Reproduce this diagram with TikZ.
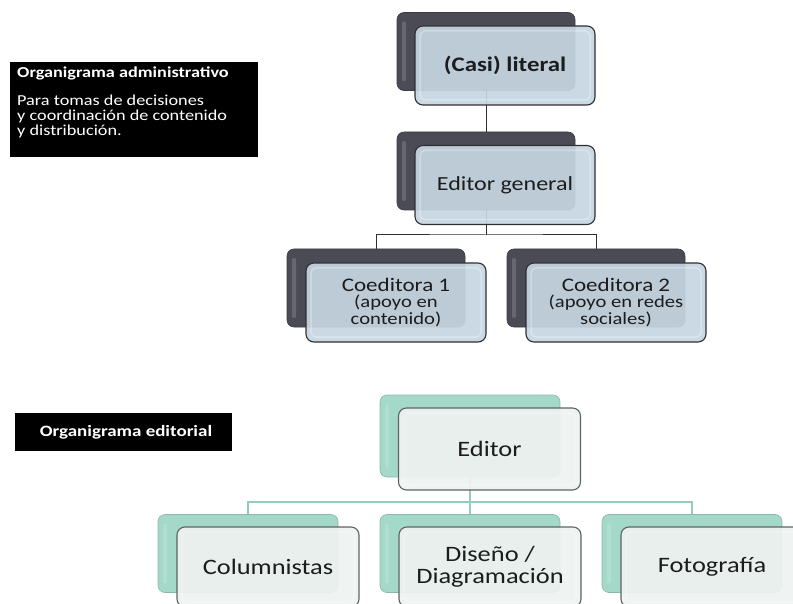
\documentclass[tikz,border=0pt]{standalone}
\usepackage{fontspec}
\setmainfont{Carlito}[FakeStretch=1.2]
\definecolor{slate}{HTML}{4B4B56}
\definecolor{frostblue}{HTML}{C6D6E1}
\definecolor{edgedark}{HTML}{2F2F33}
\definecolor{mint}{HTML}{A4D8C8}
\definecolor{paper}{HTML}{EEF2F1}
\definecolor{edgegray}{HTML}{5E6462}
\definecolor{mintline}{HTML}{95CCBC}
\definecolor{inktext}{HTML}{1C1C1C}
\usepackage{tikz}
\usetikzlibrary{positioning,calc,backgrounds}

\begin{document}
\begin{tikzpicture}[x=1pt, y=-1pt,
    backbox/.style={rounded corners=7pt, minimum width=178pt, minimum height=78pt, inner sep=0pt, line width=.6pt,
      path picture={\fill[white, opacity=.16, rounded corners=2pt] ([shift={(5,9)}]path picture bounding box.north west) rectangle ([shift={(9,-9)}]path picture bounding box.south west);}},
    darkback/.style={backbox, fill=slate, draw=slate!80!black},
    mintback/.style={backbox, fill=mint, draw=mint!85!black, minimum width=180pt},
    frontbox/.style={rounded corners=8pt, minimum width=180pt, minimum height=79pt, inner sep=2pt, align=center, text=inktext, line width=1.1pt,
      fill opacity=.92, text opacity=1,
      path picture={\draw[white, opacity=.3, line width=1.5pt, rounded corners=5pt] ([shift={(5,5)}]path picture bounding box.north west) rectangle ([shift={(-5,-5)}]path picture bounding box.south east);}},
    frostfront/.style={frontbox, fill=frostblue, draw=edgedark},
    paperfront/.style={frontbox, fill=paper, draw=edgegray, minimum width=182pt, minimum height=80pt},
    darklink/.style={draw=edgedark, line width=1pt},
    mintlink/.style={draw=mintline, line width=1.3pt},
    blackbox/.style={fill=black, inner sep=0pt},
    heading/.style={text=white, inner sep=0pt, font=\fontsize{15.2pt}{15pt}\selectfont\bfseries}
  ]
    \useasboundingbox (0,0) rectangle (793,604);

    \node[blackbox, minimum width=248pt, minimum height=95pt] (adminBox) at (134,109.5) {};
    \node[heading, anchor=base west] (adminTitle) at (17,78) {Organigrama administrativo};
    \node[heading, anchor=north west, align=left, font=\fontsize{15.2pt}{15pt}\selectfont] (adminNote) at (17,95) {Para tomas de decisiones\\y coordinación de contenido\\y distribución.};

    \node[darkback] (casiB) at (486,51.5) {};
    \node[frostfront, font=\fontsize{20.7pt}{22pt}\selectfont\bfseries] (casi) at ($(casiB)+(19,14)$) {(Casi) literal};
    \node[darkback] (generalB) at (486,171) {};
    \node[frostfront, font=\fontsize{20pt}{22pt}\selectfont] (general) at ($(generalB)+(19,14)$) {Editor general};
    \node[darkback] (coedUnoB) at (376,288) {};
    \node[frostfront, font=\fontsize{17.2pt}{15pt}\selectfont] (coedUno) at ($(coedUnoB)+(20,14.5)$) {{\fontsize{19.2pt}{20pt}\selectfont Coeditora 1}\\[1pt](apoyo en\\contenido)};
    \node[darkback] (coedDosB) at (596,288) {};
    \node[frostfront, font=\fontsize{17.2pt}{15pt}\selectfont] (coedDos) at ($(coedDosB)+(20,14.5)$) {{\fontsize{19.2pt}{20pt}\selectfont Coeditora 2}\\[1pt](apoyo en redes\\sociales)};

    \coordinate (splitA) at (486,235);
    \begin{scope}[on background layer]
      \draw[darklink] (casiB) -- (generalB);
      \draw[darklink] (generalB) -- (splitA);
      \draw[darklink] (coedUnoB) |- (splitA) -| (coedDosB);
    \end{scope}

    \node[blackbox, minimum width=217pt, minimum height=38pt] (editorialBox) at (123.5,432) {};
    \node[heading, font=\fontsize{15.8pt}{16pt}\selectfont\bfseries] (editorialTitle) at (126,432) {Organigrama editorial};

    \node[mintback, minimum height=82pt] (editorB) at (470,436) {};
    \node[paperfront, minimum height=82pt, font=\fontsize{22pt}{22pt}\selectfont] (editor) at ($(editorB)+(19.5,13)$) {Editor};
    \node[mintback] (columnB) at (248,553.5) {};
    \node[paperfront, font=\fontsize{22pt}{22pt}\selectfont] (column) at ($(columnB)+(20,13.5)$) {Columnistas};
    \node[mintback] (disenoB) at (470,553.5) {};
    \node[paperfront, font=\fontsize{22pt}{22pt}\selectfont] (diseno) at ($(disenoB)+(20,13.5)$) {Diseño /\\Diagramación};
    \node[mintback] (fotoB) at (692,553.5) {};
    \node[paperfront, font=\fontsize{22pt}{22pt}\selectfont] (foto) at ($(fotoB)+(20,13.5)$) {Fotografía};

    \coordinate (splitB) at (470,502);
    \begin{scope}[on background layer]
      \draw[mintlink] (editorB) -- (splitB);
      \draw[mintlink] (splitB) -- (disenoB);
      \draw[mintlink] (columnB) |- (splitB) -| (fotoB);
    \end{scope}
  \end{tikzpicture}
\end{document}
